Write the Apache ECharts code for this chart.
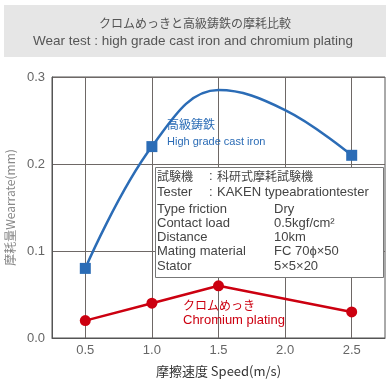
<!DOCTYPE html>
<html><head><meta charset="utf-8">
<script src="https://cdn.jsdelivr.net/npm/echarts@6/dist/echarts.min.js"></script>
<style>html,body{margin:0;padding:0;background:#fff}#c{width:390px;height:390px}</style>
</head><body><div id="c"></div>
<script>
const speedTicks = [0.5, 1.0, 1.5, 2.0, 2.5];
const yTicks = [0, 0.1, 0.2, 0.3];
// High grade cast iron: measured points
const castIronMeasured = [[0.5, 0.08], [1.0, 0.22], [2.5, 0.21]];
// High grade cast iron: drawn curve shape
const castIronCurve = [[0.5, 0.08], [1.0, 0.22], [1.5, 0.285], [2.0, 0.262], [2.5, 0.21]];
// Chromium plating
const chromium = [[0.5, 0.02], [1.0, 0.04], [1.5, 0.06], [2.5, 0.03]];

const titleJa = 'クロムめっきと高級鋳鉄の摩耗比較';
const titleEn = 'Wear test : high grade cast iron and chromium plating';
const specLabels = ['Type friction', 'Contact load', 'Distance', 'Mating material', 'Stator'];
const specValues = ['Dry', '0.5kgf/cm²', '10km', 'FC 70\u03d5×50', '5×5×20'];

const FONT = 'Liberation Sans, Arial, "Noto Sans CJK JP", sans-serif';
const JP = '"Noto Sans CJK JP", sans-serif';
const BLUE = '#2b6cb6';
const RED = '#cc0010';
const GRIDC = '#6e6866';

const chart = echarts.init(document.getElementById('c'));

const graphics = [
  { type: 'rect', shape: { x: 4, y: 5, width: 382, height: 52 }, style: { fill: '#e6e6e6' }, z: 0 },
  { type: 'text', x: 195, y: 23, style: { text: titleJa, font: '12px ' + JP, fill: '#555', textAlign: 'center', textVerticalAlign: 'middle' } },
  { type: 'text', x: 193, y: 41, style: { text: titleEn, font: '13.5px ' + FONT, fill: '#555', textAlign: 'center', textVerticalAlign: 'middle' } },
  { type: 'text', x: 167, y: 124, style: { text: '高級鋳鉄', font: '12px ' + JP, fill: BLUE, textVerticalAlign: 'middle' }, z: 10 },
  { type: 'text', x: 167, y: 142, style: { text: 'High grade cast iron', font: '11px ' + FONT, fill: BLUE, textVerticalAlign: 'middle' }, z: 10 },
  { type: 'text', x: 183, y: 305, style: { text: 'クロムめっき', font: '12px ' + JP, fill: RED, textVerticalAlign: 'middle' }, z: 10 },
  { type: 'text', x: 183, y: 320, style: { text: 'Chromium plating', font: '13px ' + FONT, fill: RED, textVerticalAlign: 'middle' }, z: 10 },
  { type: 'rect', shape: { x: 155.5, y: 167.5, width: 228, height: 110 }, style: { fill: '#fff', stroke: '#777', lineWidth: 1 }, z: 20 },
  { type: 'text', x: 157, y: 176, style: { text: '試験機', font: '12px ' + JP, fill: '#444', textVerticalAlign: 'middle' }, z: 21 },
  { type: 'text', x: 209, y: 176, style: { text: ':', font: '13px ' + FONT, fill: '#444', textVerticalAlign: 'middle' }, z: 21 },
  { type: 'text', x: 217, y: 176, style: { text: '科研式摩耗試験機', font: '12px ' + JP, fill: '#444', textVerticalAlign: 'middle' }, z: 21 },
  { type: 'text', x: 157, y: 192, style: { text: 'Tester', font: '13px ' + FONT, fill: '#444', textVerticalAlign: 'middle' }, z: 21 },
  { type: 'text', x: 209, y: 192, style: { text: ':', font: '13px ' + FONT, fill: '#444', textVerticalAlign: 'middle' }, z: 21 },
  { type: 'text', x: 217, y: 192, style: { text: 'KAKEN typeabrationtester', font: '13px ' + FONT, fill: '#444', textVerticalAlign: 'middle' }, z: 21 }
];
specLabels.forEach((t, i) => {
  const y = 209 + i * 14.3;
  graphics.push({ type: 'text', x: 157, y: y, style: { text: t, font: '13px ' + FONT, fill: '#444', textVerticalAlign: 'middle' }, z: 21 });
  graphics.push({ type: 'text', x: 274, y: y, style: { text: specValues[i], font: '13px ' + FONT, fill: '#444', textVerticalAlign: 'middle' }, z: 21 });
});

chart.setOption({
  animation: false,
  backgroundColor: '#fff',
  grid: { left: 52, right: 5, top: 77, bottom: 52, show: true, borderColor: '#555', borderWidth: 1, containLabel: false, outerBoundsMode: 'none' },
  xAxis: {
    type: 'value', min: 0.25, max: 2.75,
    name: '摩擦速度 Speed(m/s)', nameLocation: 'middle', nameGap: 27,
    nameTextStyle: { color: '#333', fontSize: 13, fontFamily: JP },
    axisLine: { show: true, lineStyle: { color: '#555' } },
    axisTick: { show: false, customValues: speedTicks },
    axisLabel: { customValues: speedTicks, color: '#666', fontSize: 13, fontFamily: FONT, margin: 6, formatter: v => v.toFixed(1) },
    splitLine: { show: true, lineStyle: { color: GRIDC, width: 1 } }
  },
  yAxis: {
    type: 'value', min: 0, max: 0.3, interval: 0.1,
    name: '摩耗量Wearrate(mm)', nameLocation: 'middle', nameGap: 33, nameRotate: 90,
    nameTextStyle: { color: '#888', fontSize: 12, fontFamily: JP },
    axisLine: { show: true, lineStyle: { color: '#555' } },
    axisTick: { show: false },
    axisLabel: { color: '#666', fontSize: 13, fontFamily: FONT, margin: 7, formatter: v => v.toFixed(1) },
    splitLine: { show: true, lineStyle: { color: GRIDC, width: 1 } }
  },
  series: [
    { type: 'line', data: castIronCurve, smooth: 0.4, showSymbol: false, symbol: 'none', lineStyle: { color: BLUE, width: 2.5 }, z: 3 },
    { type: 'scatter', data: castIronMeasured, symbol: 'rect', symbolSize: 11, itemStyle: { color: BLUE, opacity: 1 }, z: 4 },
    { type: 'line', data: chromium, symbol: 'circle', symbolSize: 11, showSymbol: true, lineStyle: { color: RED, width: 2.5 }, itemStyle: { color: RED, borderWidth: 0 }, z: 3 }
  ],
  graphic: graphics
});
</script></body></html>
